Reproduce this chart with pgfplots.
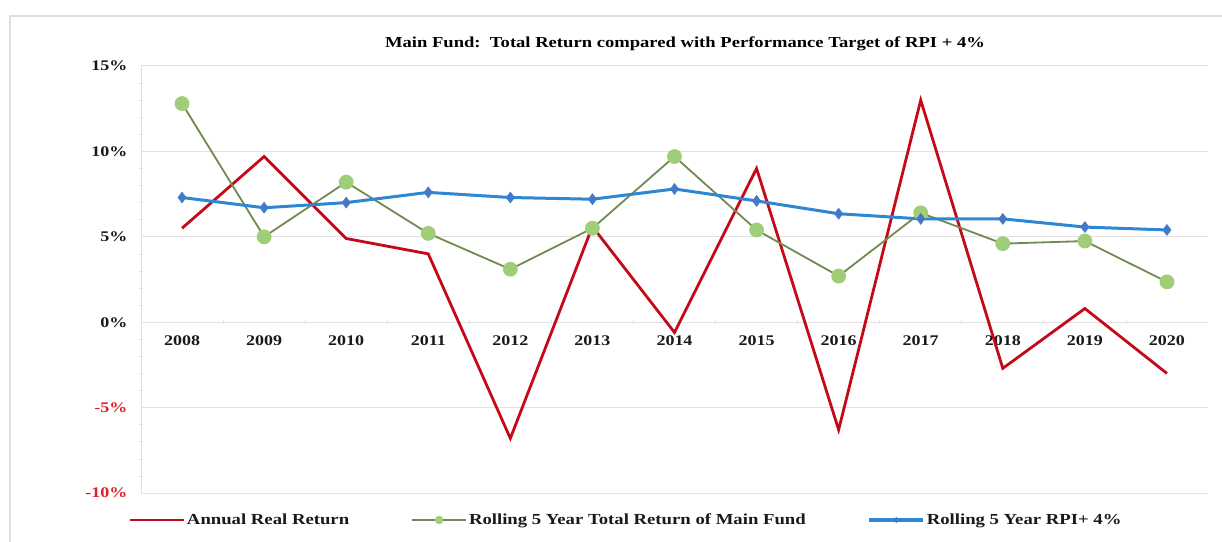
\documentclass[border=0pt]{standalone}
\usepackage{pgfplots}
\pgfplotsset{compat=1.18}
\usepackage{fontspec}
\setmainfont[FakeStretch=1.22]{Liberation Serif}
\definecolor{rred}{RGB}{196,10,25}
\definecolor{gline}{RGB}{112,138,80}
\definecolor{gmark}{RGB}{160,205,120}
\definecolor{bline}{RGB}{45,135,210}
\definecolor{bmark}{RGB}{70,120,200}
\definecolor{negred}{RGB}{225,30,40}
\definecolor{gridc}{RGB}{225,225,225}
\begin{document}
\begin{tikzpicture}
\path[use as bounding box] (0,0) rectangle (1222bp,542bp);
\draw[gray!25, line width=1.5bp] (10bp,0) -- (10bp,526bp) -- (1222bp,526bp);
\node[font=\fontsize{15.3}{17}\selectfont\bfseries, text=black] at (685bp,498bp) {Main Fund:\ \ Total Return compared with Performance Target of RPI + 4\%};
\begin{axis}[
  at={(141bp,49bp)}, anchor=south west,
  scale only axis, width=1067bp, height=427bp,
  xmin=-0.5, xmax=12.5, ymin=-10, ymax=15,
  axis x line=middle, axis y line=left,
  axis line style={-, draw=gridc, line width=0.8bp},
  xtick={0,...,12},
  xticklabels={2008,2009,2010,2011,2012,2013,2014,2015,2016,2017,2018,2019,2020},
  xtick style={draw=none},
  minor xtick={0.5,1.5,...,11.5},
  minor x tick style={draw=gridc, line width=0.8bp},
  ytick={-10,-5,0,5,10,15},
  yticklabels={\textcolor{negred}{-10\%},\textcolor{negred}{-5\%},0\%,5\%,10\%,15\%},
  ytick style={draw=none},
  minor y tick num=4,
  minor y tick style={draw=gridc, line width=0.6bp},
  minor tick length=4bp,
  ymajorgrids, major grid style={draw=gridc, line width=1bp},
  ticklabel style={font=\fontsize{14.8}{16}\selectfont\bfseries, text=black!90},
  xticklabel style={yshift=-8bp},
  yticklabel style={xshift=-8bp},
  /pgf/number format/assume math mode=true,
  clip=false,
  legend columns=3,
  legend style={draw=none, fill=none, at={(-13bp,-27bp)}, anchor=west,
    font=\fontsize{15.4}{16}\selectfont\bfseries, text=black!90,
    /tikz/every even column/.append style={column sep=60bp},
    inner sep=0pt, row sep=0pt},
  legend cell align=left,
  legend image code/.code={\draw[mark repeat=2, mark phase=2, #1, every mark/.append style={scale=0.5}] plot coordinates {(0bp,0bp) (27bp,0bp) (54bp,0bp)};},
]
\addplot[rred, line width=2.8bp, mark=none] coordinates {
(0,5.5) (1,9.7) (2,4.9) (3,4.0) (4,-6.8) (5,5.6) (6,-0.6) (7,9.0) (8,-6.3) (9,13.0) (10,-2.7) (11,0.8) (12,-3.0)};
\addlegendentry{Annual Real Return}
\addplot[gline, line width=1.8bp, mark=*, mark size=6.5bp, mark options={draw=gmark, fill=gmark}] coordinates {
(0,12.8) (1,5.0) (2,8.2) (3,5.2) (4,3.1) (5,5.5) (6,9.7) (7,5.4) (8,2.7) (9,6.4) (10,4.6) (11,4.75) (12,2.36)};
\addlegendentry{Rolling 5 Year Total Return of Main Fund}
\addplot[bline, line width=3bp, mark=diamond*, mark size=5.5bp, mark options={draw=bmark, fill=bmark, line width=0.5bp}] coordinates {
(0,7.3) (1,6.7) (2,7.0) (3,7.6) (4,7.3) (5,7.2) (6,7.8) (7,7.1) (8,6.35) (9,6.05) (10,6.05) (11,5.57) (12,5.4)};
\addlegendentry{Rolling 5 Year RPI+ 4\%}
\end{axis}
\end{tikzpicture}
\end{document}
